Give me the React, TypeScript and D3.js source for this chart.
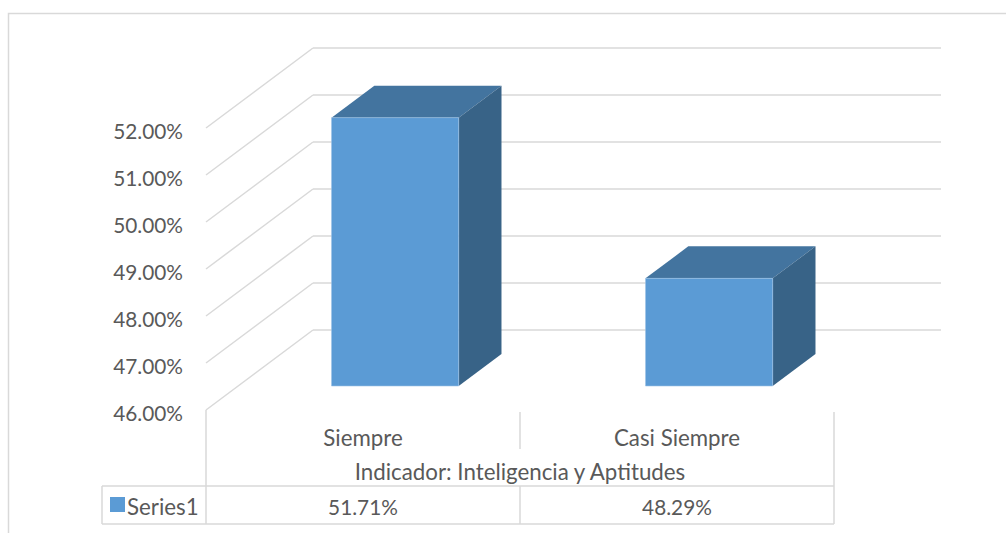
import { scaleBand, scaleLinear, format } from 'd3';

const categories = ['Siempre', 'Casi Siempre'];
const values = [51.71, 48.29];
const yTicks = [46, 47, 48, 49, 50, 51, 52];
const seriesName = 'Series1';
const axisTitle = 'Indicador: Inteligencia y Aptitudes';

const W = 1006;
const H = 533;
// 3d wall offsets (front floor edge -> back wall)
const depthX = 107;
const depthY = -80;
const barZ0 = 0.3;
const barZ1 = 0.7;

const grid = '#d9d9d9';
const textCol = '#595959';
const font = "Lato, 'Open Sans', sans-serif";
const numSize = 20.8;
const wordSize = 22.3;

export default function App() {
  const x = scaleBand<string>().domain(categories).range([206, 834]);
  const y = scaleLinear().domain([46, 52]).range([410, 128]);
  const pct = (v: number) => format('.2f')(v) + '%';
  const P = (px: number, py: number, z: number) => `${px + z * depthX},${py + z * depthY}`;

  const tableTop = 486;
  const tableBot = 524;
  const [x0, x1] = x.range();

  return (
    <svg width={W} height={H} style={{ position: 'absolute', left: 0, top: 0, background: '#fff' }}>
      <rect x={8.5} y={13.5} width={1010} height={540} fill="#fff" stroke={grid} strokeWidth={1.5} />

      {/* walls */}
      {yTicks.map(t => (
        <g key={t} fill="none" stroke={grid} strokeWidth={1.5}>
          <line x1={x0} y1={y(t)} x2={x0 + depthX} y2={y(t) + depthY} />
          <line x1={x0 + depthX} y1={y(t) + depthY} x2={x1 + depthX} y2={y(t) + depthY} />
        </g>
      ))}
      {yTicks.map(t => (
        <text key={'l' + t} x={183} y={y(t) + 2} textAnchor="end" dominantBaseline="central"
          fontFamily={font} fontSize={numSize} fill={textCol}>{pct(t)}</text>
      ))}

      {/* bars */}
      {categories.map((c, i) => {
        const bw = x.bandwidth() * 0.405;
        const cx = (x(c) as number) + x.bandwidth() / 2;
        const l = cx - bw / 2;
        const r = cx + bw / 2;
        const top = y(values[i]);
        const bot = y(46);
        return (
          <g key={c}>
            <polygon points={[P(l, top, barZ0), P(r, top, barZ0), P(r, top, barZ1), P(l, top, barZ1)].join(' ')} fill="#43749f" />
            <polygon points={[P(r, top, barZ0), P(r, bot, barZ0), P(r, bot, barZ1), P(r, top, barZ1)].join(' ')} fill="#386387" />
            <polygon points={[P(l, top, barZ0), P(r, top, barZ0), P(r, bot, barZ0), P(l, bot, barZ0)].join(' ')} fill="#5b9bd5" stroke="#9dc3e6" strokeWidth={0.6} />
          </g>
        );
      })}

      {/* category axis + data table */}
      <g stroke={grid} strokeWidth={1.5}>
        <line x1={x0} y1={y(46)} x2={x0} y2={tableBot} />
        <line x1={x1} y1={412} x2={x1} y2={tableBot} />
        {categories.slice(1).map(c => (
          <g key={c}>
            <line x1={x(c)} y1={412} x2={x(c)} y2={449} />
            <line x1={x(c)} y1={tableTop} x2={x(c)} y2={tableBot} />
          </g>
        ))}
        <line x1={102} y1={tableTop} x2={x1} y2={tableTop} />
        <line x1={102} y1={tableBot} x2={x1} y2={tableBot} />
        <line x1={102} y1={tableTop} x2={102} y2={tableBot} />
      </g>
      {categories.map((c, i) => (
        <g key={'t' + c} fontFamily={font} fill={textCol} textAnchor="middle">
          <text x={(x(c) as number) + x.bandwidth() / 2} y={437} dominantBaseline="central" fontSize={wordSize}>{c}</text>
          <text x={(x(c) as number) + x.bandwidth() / 2} y={506} dominantBaseline="central" fontSize={numSize}>{pct(values[i])}</text>
        </g>
      ))}
      <text x={(x0 + x1) / 2} y={471} textAnchor="middle" dominantBaseline="central"
        fontFamily={font} fontSize={wordSize} fill={textCol}>{axisTitle}</text>
      <rect x={110} y={497} width={15} height={15} fill="#5b9bd5" />
      <text x={127} y={506} dominantBaseline="central" fontFamily={font} fontSize={wordSize} fill={textCol}>{seriesName}</text>
    </svg>
  );
}
